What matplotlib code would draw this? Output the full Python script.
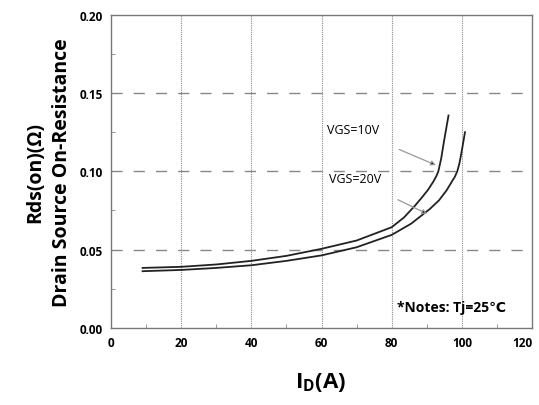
import numpy as np
import matplotlib
matplotlib.use('Agg')
import matplotlib.pyplot as plt
from matplotlib.ticker import MultipleLocator

plt.rcParams['font.family'] = ['Open Sans', 'DejaVu Sans']

# (ID in A, Rds(on) in ohm)
id_10v = [9, 20, 30, 40, 50, 60, 70, 80, 83.5, 86.7, 88.5, 90.3, 91.9,
          92.7, 93.3, 94.1, 94.9, 96.2]
rds_10v = [0.0383, 0.0390, 0.0405, 0.0428, 0.0460, 0.0505, 0.0558, 0.0643,
           0.0705, 0.0782, 0.0830, 0.0880, 0.0935, 0.0968, 0.1000, 0.1080,
           0.1190, 0.1357]
id_20v = [9, 20, 30, 40, 50, 60, 70, 80, 85.5, 90.9, 93.5, 95.7, 97.3,
          98.0, 98.7, 99.3, 99.9, 100.9]
rds_20v = [0.0362, 0.0370, 0.0383, 0.0400, 0.0428, 0.0463, 0.0515, 0.0594,
           0.0665, 0.0760, 0.0815, 0.0880, 0.0940, 0.0965, 0.1000, 0.1050,
           0.1120, 0.1250]

x_ticks = [0, 20, 40, 60, 80, 100, 120]
y_ticks = [0.00, 0.05, 0.10, 0.15, 0.20]

fig = plt.figure(figsize=(5.39, 4.06), dpi=100)
ax = fig.add_axes([0.206, 0.19, 0.781, 0.771])

ax.plot(id_10v, rds_10v, color='#222222', lw=1.3)
ax.plot(id_20v, rds_20v, color='#222222', lw=1.3)

ax.set_xlim(0, 120)
ax.set_ylim(0, 0.20)
ax.set_xticks(x_ticks)
ax.set_yticks(y_ticks)
ax.set_xticklabels([str(v) for v in x_ticks], fontweight='bold', fontsize=8.5)
ax.set_yticklabels(['%.2f' % v for v in y_ticks], fontweight='bold', fontsize=8.5)
ax.get_xticklabels()[-1].set_ha('right')
ax.xaxis.set_minor_locator(MultipleLocator(10))
ax.yaxis.set_minor_locator(MultipleLocator(0.025))
ax.tick_params(which='major', length=0, pad=6)
ax.tick_params(which='minor', length=3, direction='in', color='#888888')

# grid: dotted verticals, dashed horizontals
for xv in x_ticks[1:-1]:
    ax.axvline(xv, color='#888888', lw=0.8, ls=(0, (1, 1)), zorder=0)
for yv in y_ticks[1:-1]:
    ax.axhline(yv, color='#888888', lw=1.0, ls=(0, (8, 8)), zorder=0)

for s in ax.spines.values():
    s.set_color('#777777')
    s.set_linewidth(1.0)

ax.annotate('VGS=10V', xy=(92.6, 0.104), xytext=(69, 0.1265), fontsize=9,
            ha='center', va='center',
            arrowprops=dict(arrowstyle='-|>', ec='#999999', fc='black',
                            lw=0.9, shrinkA=19, shrinkB=0, mutation_scale=7))
ax.annotate('VGS=20V', xy=(90.1, 0.0728), xytext=(69.6, 0.0952), fontsize=9,
            ha='center', va='center',
            arrowprops=dict(arrowstyle='-|>', ec='#999999', fc='black',
                            lw=0.9, shrinkA=19, shrinkB=0, mutation_scale=7))

ax.text(97, 0.0134, '*Notes: Tj=25\u2103', fontsize=10, fontweight='bold',
        ha='center', va='center')

fig.text(0.065, 0.575, 'Rds(on)(\u03a9)', rotation=90, fontsize=14,
         fontweight='bold', ha='center', va='center')
fig.text(0.115, 0.575, 'Drain Source On-Resistance', rotation=90, fontsize=14,
         fontweight='bold', ha='center', va='center')
fig.text(0.595, 0.057, r'I$_{\mathregular{D}}$(A)', fontsize=16,
         fontweight='bold', ha='center', va='center')

fig.savefig('out.png', dpi=100)
